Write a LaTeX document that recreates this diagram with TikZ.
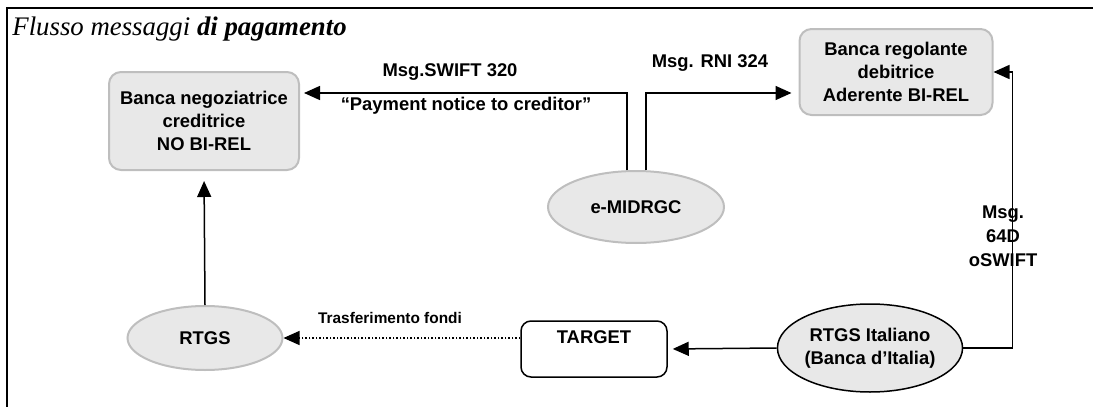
\documentclass[tikz,border=0pt]{standalone}
\usepackage{fontspec}
\setmainfont{Liberation Serif}
\setsansfont{Liberation Sans}
\usetikzlibrary{arrows.meta,shapes.geometric}
\definecolor{boxgray}{RGB}{232,232,232}
\definecolor{edgegray}{RGB}{190,190,190}
\newcommand{\boxfont}{\sffamily\bfseries\fontsize{9.2}{11.5}\selectfont}
\newcommand{\lblfont}{\sffamily\bfseries\fontsize{9.2}{12}\selectfont}
\newcommand{\smallfont}{\sffamily\bfseries\fontsize{7.7}{9}\selectfont}
\newcommand{\titlefont}{\rmfamily\itshape\fontsize{13.4}{15}\selectfont}
\begin{document}
\begin{tikzpicture}[x=0.5pt,y=-0.5pt,
    bank/.style={draw=edgegray, line width=1pt, fill=boxgray, rounded corners=6pt,
      align=center, font=\boxfont, inner sep=0pt},
    oval/.style={ellipse, draw=edgegray, line width=1pt, fill=boxgray,
      align=center, font=\boxfont, inner sep=0pt},
    lbl/.style={font=\lblfont, inner sep=0pt, align=center},
    msg/.style={-{Triangle[length=8pt,width=7pt]}, line width=0.75pt}]
  \useasboundingbox (0,0) rectangle (1093,407);
  % frame and title
  \draw[line width=1pt] (7,407) -- (7,8) -- (1093,8);
  \node[anchor=base west, font=\titlefont, inner sep=0pt] (title) at (12,35)
    {Flusso messaggi {\bfseries di pagamento}};
  % banks and systems
  \node[bank, minimum width=95pt, minimum height=49pt] (box1) at (204,121)
    {Banca negoziatrice\\creditrice\\NO BI-REL};
  \node[bank, minimum width=96.5pt, minimum height=43pt] (box2) at (896,72)
    {Banca regolante\\debitrice\\Aderente BI-REL};
  \node[oval, minimum width=88pt, minimum height=36pt] (emid) at (636,207) {e-MIDRGC};
  \node[oval, minimum width=77.5pt, minimum height=32pt] (rtgs) at (205,338) {RTGS};
  \node[draw, line width=0.75pt, rounded corners=5pt, font=\boxfont, inner sep=0pt,
    minimum width=73pt, minimum height=28pt, text depth=12pt] (target) at (594,349) {TARGET};
  \node[oval, draw=black, line width=0.75pt, minimum width=87pt, minimum height=44pt]
    (ritalia) at (870,348) {RTGS Italiano\\(Banca d’Italia)};
  % messages
  \draw[msg, shorten >=2pt] ([xshift=-4.5pt]emid.north) |- ([yshift=14pt]box1.east);
  \draw[msg, shorten >=3.5pt] ([xshift=5pt]emid.north) |- ([yshift=-10.5pt]box2.west);
  \draw[msg] (ritalia.east) -| ([xshift=9.5pt]box2.east) -- (box2.east);
  \draw[msg, shorten >=2.5pt] (ritalia.west) -- (target.east);
  \draw[msg, densely dotted, line width=0.6pt] (target.west |- rtgs.east) -- (rtgs.east);
  \draw[msg, shorten >=5pt] (rtgs.north) -- (box1.south);
  % labels
  \node[lbl] (swift) at (450,72) {Msg.SWIFT 320};
  \node[lbl] (notice) at (466,106) {“Payment notice to creditor”};
  \node[lbl] (rni) at (710,63) {Msg. RNI 324};
  \node[lbl] (mt) at (1003,236) {Msg.\\64D\\oSWIFT};
  \node[lbl, font=\smallfont] (fondi) at (390,318) {Trasferimento fondi};
\end{tikzpicture}
\end{document}
